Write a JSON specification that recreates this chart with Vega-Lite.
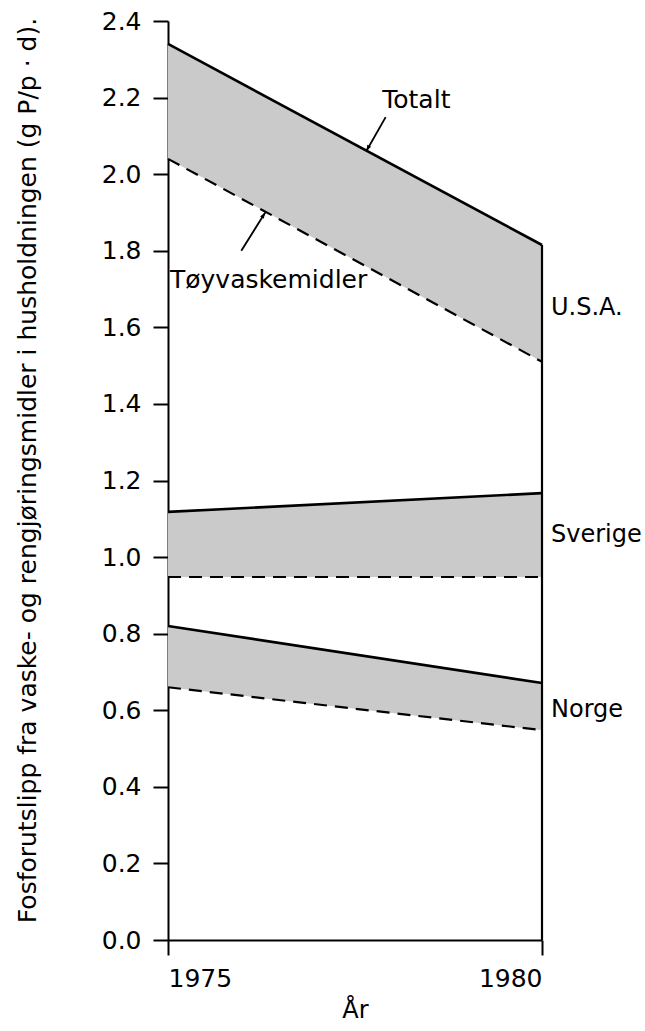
{
  "$schema": "https://vega.github.io/schema/vega-lite/v6.json",
  "width": 374,
  "height": 919,
  "autosize": {"type": "none"},
  "padding": {"left": 168, "top": 21, "right": 103, "bottom": 91},
  "background": "white",
  "config": {
    "view": {"stroke": null},
    "font": "DejaVu Sans",
    "axis": {
      "grid": false,
      "domainColor": "black",
      "tickColor": "black",
      "labelColor": "black",
      "titleColor": "black",
      "domainWidth": 2,
      "tickWidth": 2,
      "labelFont": "DejaVu Sans",
      "titleFont": "DejaVu Sans",
      "titleFontWeight": "normal"
    }
  },
  "datasets": {
    "series": [
      {"country": "U.S.A.", "year": 1975, "total": 2.34, "toy": 2.04},
      {"country": "U.S.A.", "year": 1980, "total": 1.815, "toy": 1.51},
      {"country": "Sverige", "year": 1975, "total": 1.118, "toy": 0.948},
      {"country": "Sverige", "year": 1980, "total": 1.167, "toy": 0.948},
      {"country": "Norge", "year": 1975, "total": 0.82, "toy": 0.66},
      {"country": "Norge", "year": 1980, "total": 0.671, "toy": 0.548}
    ],
    "countryLabels": [
      {"label": "U.S.A.", "year": 1980, "value": 1.65},
      {"label": "Sverige", "year": 1980, "value": 1.057},
      {"label": "Norge", "year": 1980, "value": 0.6}
    ],
    "arrows": [
      {"name": "Totalt", "year": 1977.91, "value": 2.149, "year2": 1977.65, "value2": 2.06},
      {"name": "Tøyvaskemidler", "year": 1975.98, "value": 1.8, "year2": 1976.3, "value2": 1.9}
    ]
  },
  "layer": [
    {
      "data": {"name": "series"},
      "mark": {"type": "area", "color": "#cacaca", "opacity": 1},
      "encoding": {
        "x": {
          "field": "year",
          "type": "quantitative",
          "scale": {"domain": [1975, 1980], "nice": false, "zero": false},
          "axis": {
            "values": [1975, 1980],
            "format": "d",
            "labelFontSize": 25,
            "tickSize": 15,
            "labelPadding": 11,
            "title": "År",
            "titleFontSize": 24,
            "titlePadding": 7
          }
        },
        "y": {
          "field": "total",
          "type": "quantitative",
          "scale": {"domain": [0, 2.4], "nice": false},
          "axis": {
            "values": [0, 0.2, 0.4, 0.6, 0.8, 1.0, 1.2, 1.4, 1.6, 1.8, 2.0, 2.2, 2.4],
            "format": ".1f",
            "labelFontSize": 25,
            "tickSize": 15,
            "labelPadding": 12,
            "title": "Fosforutslipp fra vaske- og rengjøringsmidler i husholdningen (g P/p · d).",
            "titleFontSize": 25,
            "titleAngle": -90,
            "titleX": -141,
            "titleY": 449,
            "titleAlign": "center",
            "titleBaseline": "middle"
          }
        },
        "y2": {"field": "toy"},
        "detail": {"field": "country"}
      }
    },
    {
      "data": {"name": "series"},
      "mark": {"type": "line", "color": "black", "strokeWidth": 2.6},
      "encoding": {
        "x": {"field": "year", "type": "quantitative"},
        "y": {"field": "total", "type": "quantitative"},
        "detail": {"field": "country"}
      }
    },
    {
      "data": {"name": "series"},
      "mark": {"type": "line", "color": "black", "strokeWidth": 2.2, "strokeDash": [13, 8]},
      "encoding": {
        "x": {"field": "year", "type": "quantitative"},
        "y": {"field": "toy", "type": "quantitative"},
        "detail": {"field": "country"}
      }
    },
    {
      "data": {"name": "series"},
      "transform": [{"filter": "datum.country == 'U.S.A.' && datum.year == 1980"}],
      "mark": {"type": "rule", "color": "black", "strokeWidth": 2.2},
      "encoding": {
        "x": {"field": "year", "type": "quantitative"},
        "y": {"field": "total", "type": "quantitative"},
        "y2": {"datum": 0}
      }
    },
    {
      "data": {"name": "countryLabels"},
      "mark": {"type": "text", "align": "left", "baseline": "middle", "dx": 9, "fontSize": 24, "color": "black"},
      "encoding": {
        "x": {"field": "year", "type": "quantitative"},
        "y": {"field": "value", "type": "quantitative"},
        "text": {"field": "label"}
      }
    },
    {
      "data": {"name": "arrows"},
      "mark": {"type": "rule", "color": "black", "strokeWidth": 1.8},
      "encoding": {
        "x": {"field": "year", "type": "quantitative"},
        "y": {"field": "value", "type": "quantitative"},
        "x2": {"field": "year2"},
        "y2": {"field": "value2"}
      }
    },
    {
      "data": {"name": "arrows"},
      "transform": [{"filter": "datum.name == 'Totalt'"}],
      "mark": {"type": "point", "shape": "M0,0L-0.35,1L0.35,1Z", "filled": true, "color": "black", "size": 150, "angle": 209, "opacity": 1},
      "encoding": {
        "x": {"field": "year2", "type": "quantitative"},
        "y": {"field": "value2", "type": "quantitative"}
      }
    },
    {
      "data": {"name": "arrows"},
      "transform": [{"filter": "datum.name == 'Tøyvaskemidler'"}],
      "mark": {"type": "point", "shape": "M0,0L-0.35,1L0.35,1Z", "filled": true, "color": "black", "size": 150, "angle": 33, "opacity": 1},
      "encoding": {
        "x": {"field": "year2", "type": "quantitative"},
        "y": {"field": "value2", "type": "quantitative"}
      }
    },
    {
      "data": {"values": [{"text": "Totalt", "year": 1978.32, "value": 2.193}]},
      "mark": {"type": "text", "align": "center", "baseline": "middle", "fontSize": 25, "color": "black"},
      "encoding": {
        "x": {"field": "year", "type": "quantitative"},
        "y": {"field": "value", "type": "quantitative"},
        "text": {"field": "text"}
      }
    },
    {
      "data": {"values": [{"text": "Tøyvaskemidler", "year": 1975, "value": 1.723}]},
      "mark": {"type": "text", "align": "left", "baseline": "middle", "dx": 2, "fontSize": 25, "color": "black"},
      "encoding": {
        "x": {"field": "year", "type": "quantitative"},
        "y": {"field": "value", "type": "quantitative"},
        "text": {"field": "text"}
      }
    }
  ]
}
